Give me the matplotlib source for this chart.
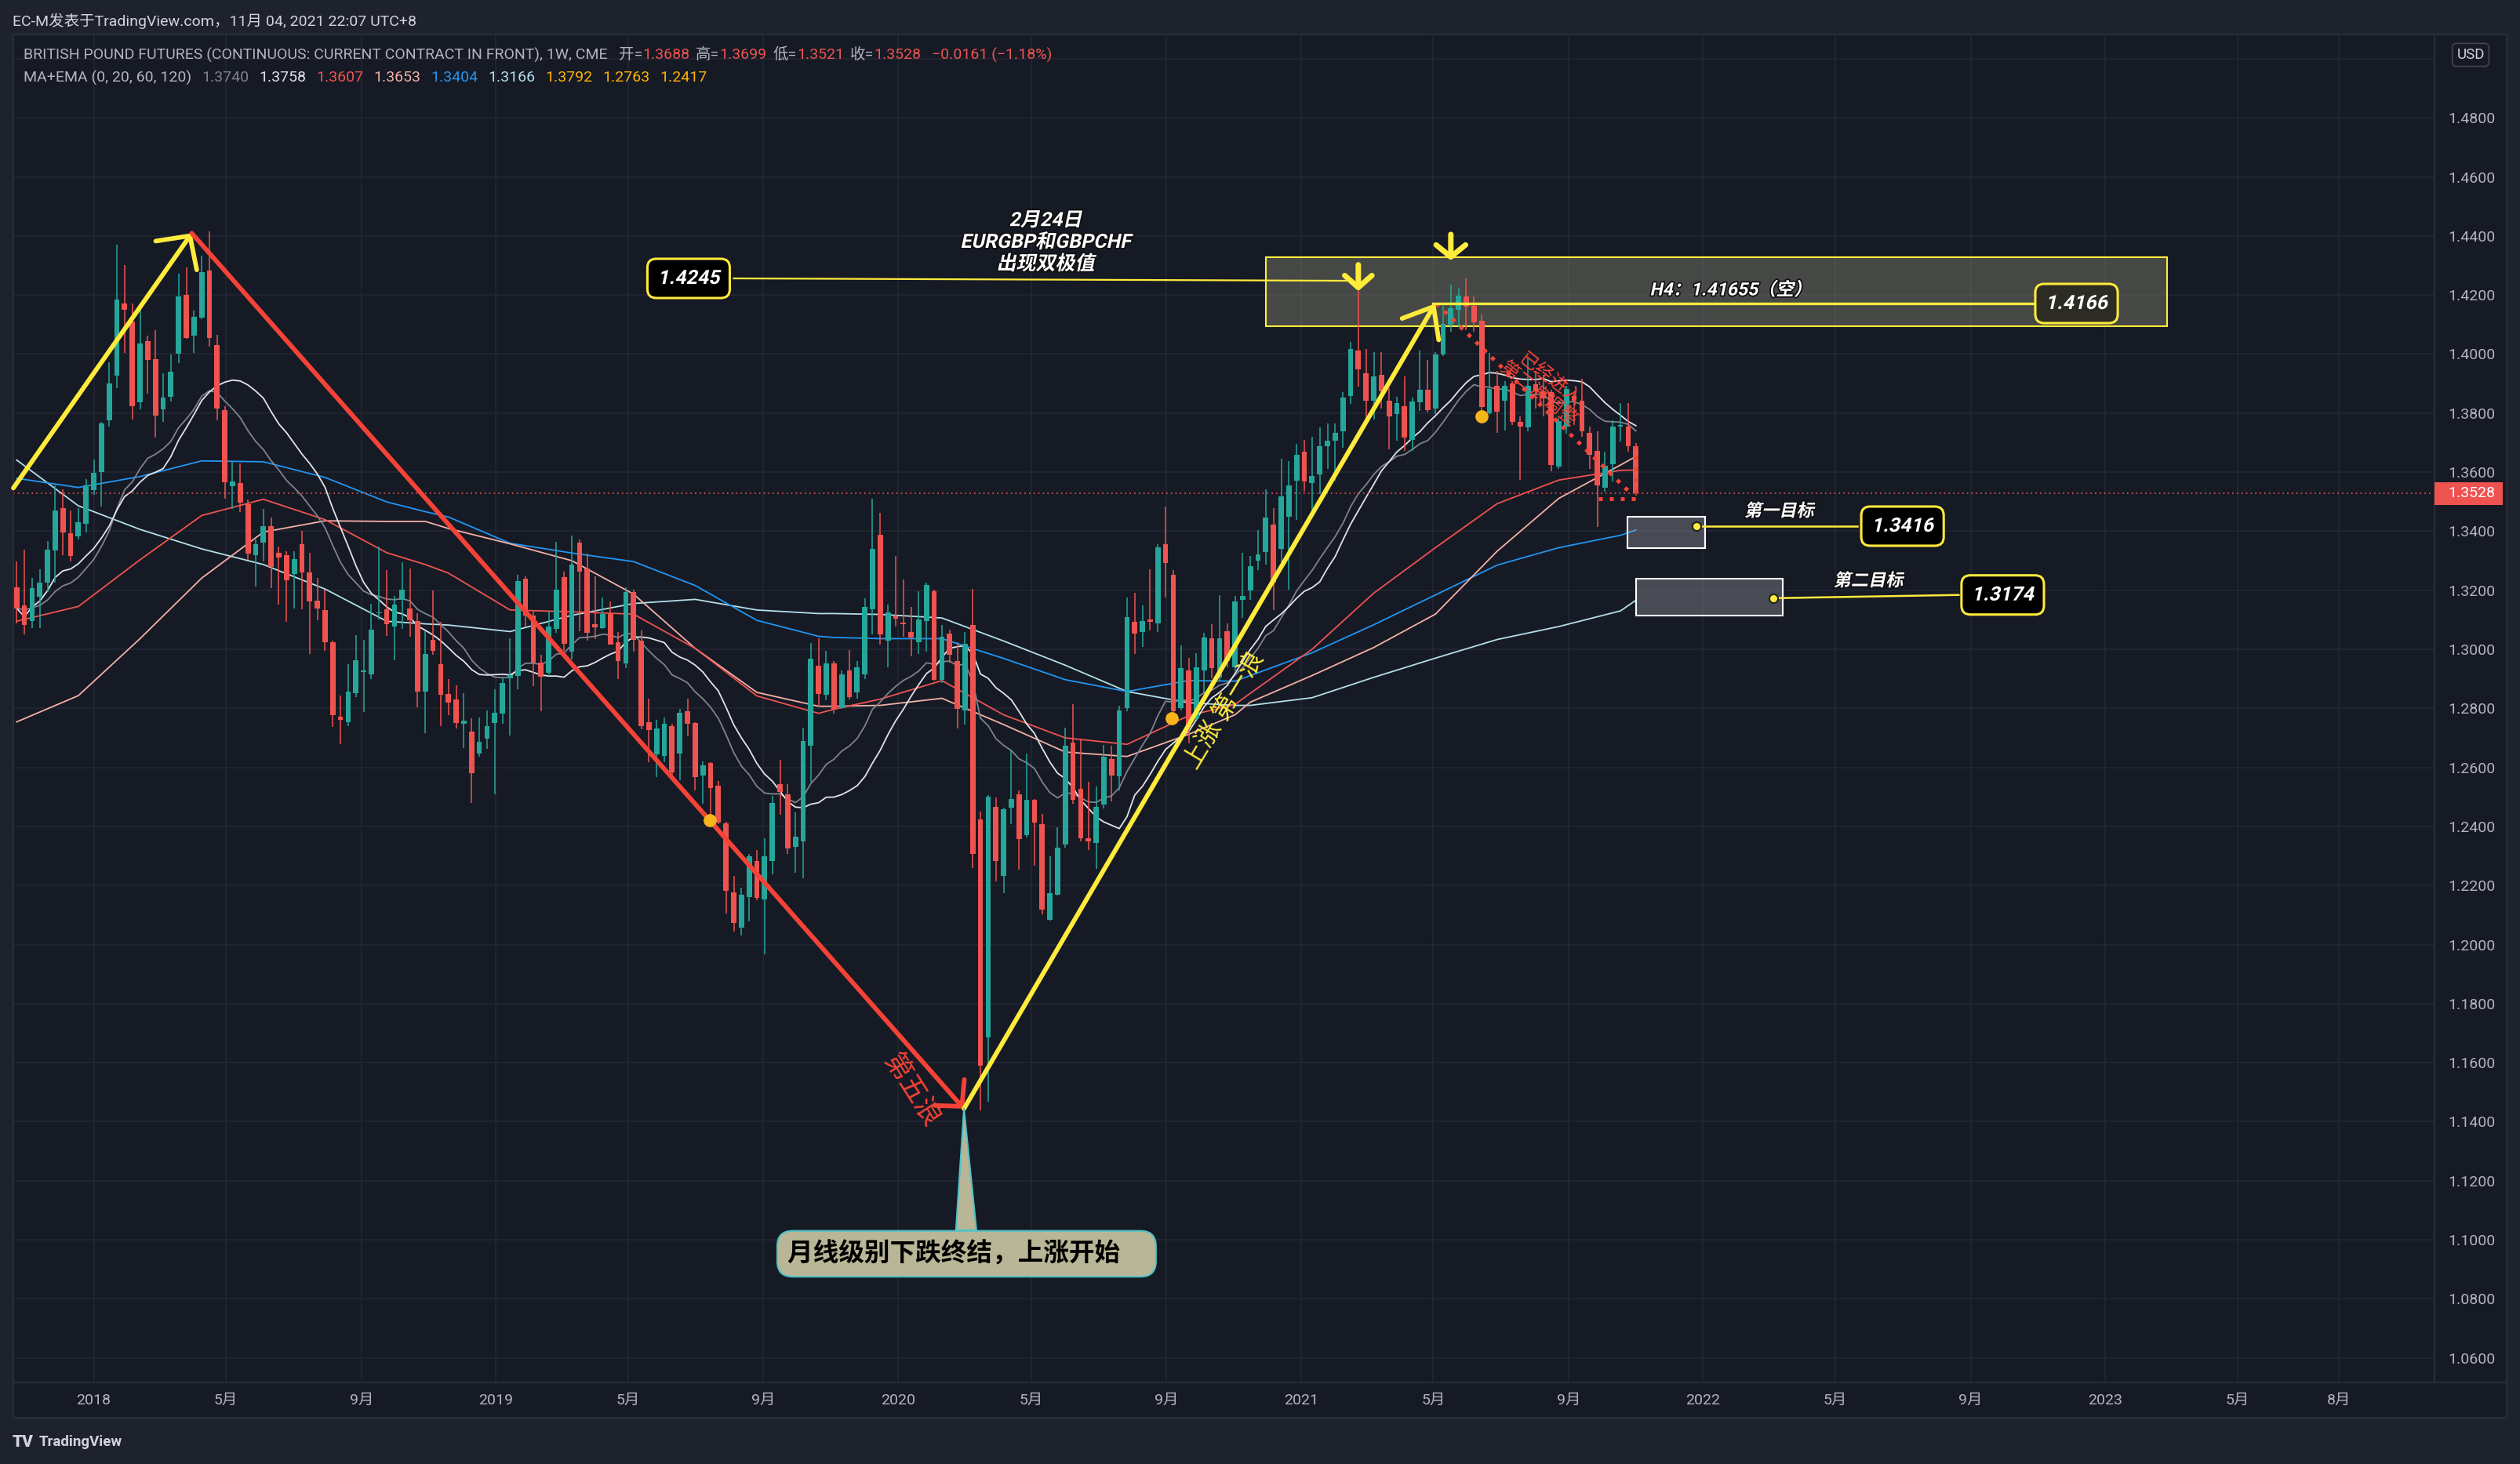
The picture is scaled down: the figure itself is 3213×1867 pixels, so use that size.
import numpy as np
import pandas as pd
import matplotlib
matplotlib.use('Agg')
import matplotlib.pyplot as plt
import matplotlib.dates as mdates
from matplotlib.patches import Rectangle
from matplotlib.patheffects import AbstractPathEffect
from matplotlib.ticker import FixedLocator, FormatStrFormatter
from matplotlib.transforms import Affine2D, blended_transform_factory

W, H = 3213, 1867
plt.rcParams['font.family'] = ['Roboto', 'Noto Sans CJK SC', 'DejaVu Sans']

# weekly bars, GBP futures (6B), Oct 2017 - Nov 2021
weeks = pd.date_range('2017-10-23', periods=211, freq='7D')
opens = [1.3210, 1.3148, 1.3095, 1.3178, 1.3225, 1.3334, 1.3479, 1.3393, 1.3382, 1.3426,
         1.3540, 1.3601, 1.3775, 1.3926, 1.4172, 1.4111, 1.3837, 1.4044, 1.3983, 1.3813,
         1.3856, 1.4000, 1.4201, 1.4062, 1.4123, 1.4283, 1.4030, 1.3809, 1.3552, 1.3564,
         1.3490, 1.3318, 1.3361, 1.3416, 1.3327, 1.3320, 1.3254, 1.3357, 1.3261, 1.3164,
         1.3132, 1.3025, 1.2772, 1.2753, 1.2852, 1.2923, 1.2916, 1.3121, 1.3135, 1.3076,
         1.3166, 1.3139, 1.3095, 1.2856, 1.3031, 1.2949, 1.2848, 1.2830, 1.2748, 1.2722,
         1.2646, 1.2698, 1.2751, 1.2781, 1.2902, 1.2910, 1.3240, 1.3113, 1.2955, 1.2920,
         1.3069, 1.3245, 1.2993, 1.3361, 1.3273, 1.3086, 1.3073, 1.3119, 1.3023, 1.2953,
         1.3193, 1.3029, 1.2752, 1.2643, 1.2638, 1.2739, 1.2646, 1.2789, 1.2750, 1.2573,
         1.2614, 1.2539, 1.2411, 1.2177, 1.2058, 1.2162, 1.2284, 1.2153, 1.2284, 1.2543,
         1.2510, 1.2332, 1.2350, 1.2673, 1.2943, 1.2845, 1.2953, 1.2802, 1.2928, 1.2855,
         1.2916, 1.3136, 1.3388, 1.3028, 1.3115, 1.3088, 1.3058, 1.3025, 1.3096, 1.3197,
         1.2897, 1.3052, 1.2960, 1.2794, 1.3082, 1.2425, 1.1685, 1.2467, 1.2233, 1.2464,
         1.2509, 1.2370, 1.2490, 1.2409, 1.2085, 1.2170, 1.2339, 1.2685, 1.2527, 1.2361,
         1.2345, 1.2473, 1.2628, 1.2569, 1.2802, 1.3093, 1.3058, 1.3101, 1.3088, 1.3355,
         1.3252, 1.2800, 1.2928, 1.2766, 1.2928, 1.3036, 1.2905, 1.3061, 1.2939, 1.3166,
         1.3198, 1.3299, 1.3328, 1.3423, 1.3341, 1.3448, 1.3570, 1.3668, 1.3563, 1.3593,
         1.3687, 1.3706, 1.3737, 1.3858, 1.4012, 1.3935, 1.3843, 1.3930, 1.3843, 1.3796,
         1.3823, 1.3709, 1.3836, 1.3879, 1.3814, 1.3998, 1.4099, 1.4150, 1.4195, 1.4164,
         1.4114, 1.3800, 1.3891, 1.3841, 1.3901, 1.3770, 1.3751, 1.3897, 1.3873, 1.3870,
         1.3620, 1.3754, 1.3858, 1.3843, 1.3732, 1.3671, 1.3546, 1.3627, 1.3754, 1.3754,
         1.3688]
highs = [1.3298, 1.3337, 1.3241, 1.3270, 1.3367, 1.3555, 1.3541, 1.3469, 1.3479, 1.3577,
         1.3643, 1.3771, 1.3972, 1.4370, 1.4302, 1.4172, 1.4161, 1.4061, 1.4081, 1.3935,
         1.3999, 1.4273, 1.4294, 1.4146, 1.4334, 1.4416, 1.4065, 1.3824, 1.3638, 1.3629,
         1.3506, 1.3373, 1.3476, 1.3446, 1.3347, 1.3333, 1.3331, 1.3402, 1.3327, 1.3241,
         1.3201, 1.3029, 1.2843, 1.2949, 1.3047, 1.3031, 1.3155, 1.3349, 1.3267, 1.3181,
         1.3296, 1.3274, 1.3121, 1.3062, 1.3199, 1.3092, 1.2900, 1.2877, 1.2851, 1.2765,
         1.2769, 1.2792, 1.2864, 1.2904, 1.3038, 1.3252, 1.3246, 1.3127, 1.2982, 1.3127,
         1.3364, 1.3264, 1.3385, 1.3371, 1.3323, 1.3246, 1.3174, 1.3163, 1.3058, 1.3210,
         1.3202, 1.3064, 1.2834, 1.2762, 1.2770, 1.2747, 1.2797, 1.2832, 1.2753, 1.2620,
         1.2617, 1.2554, 1.2415, 1.2233, 1.2193, 1.2306, 1.2320, 1.2361, 1.2504, 1.2625,
         1.2543, 1.2447, 1.2735, 1.3020, 1.3038, 1.2994, 1.2961, 1.2928, 1.2998, 1.2961,
         1.3173, 1.3510, 1.3461, 1.3151, 1.3315, 1.3237, 1.3143, 1.3197, 1.3227, 1.3203,
         1.3081, 1.3066, 1.3025, 1.3058, 1.3204, 1.2451, 1.2506, 1.2499, 1.2464, 1.2658,
         1.2521, 1.2648, 1.2494, 1.2442, 1.2300, 1.2396, 1.2734, 1.2813, 1.2696, 1.2551,
         1.2536, 1.2675, 1.2673, 1.2809, 1.3175, 1.3190, 1.3148, 1.3272, 1.3357, 1.3484,
         1.3267, 1.3013, 1.2972, 1.2987, 1.3055, 1.3085, 1.3182, 1.3088, 1.3181, 1.3327,
         1.3315, 1.3404, 1.3543, 1.3479, 1.3644, 1.3637, 1.3695, 1.3710, 1.3719, 1.3752,
         1.3766, 1.3765, 1.3870, 1.4040, 1.4248, 1.4018, 1.4006, 1.4007, 1.3885, 1.3855,
         1.3923, 1.3852, 1.4012, 1.3980, 1.4007, 1.4164, 1.4236, 1.4224, 1.4257, 1.4194,
         1.4135, 1.4004, 1.3944, 1.3909, 1.3909, 1.3790, 1.3986, 1.3944, 1.3930, 1.3879,
         1.3784, 1.3891, 1.3867, 1.3915, 1.3754, 1.3737, 1.3669, 1.3776, 1.3835, 1.3834,
         1.3699]
lows = [1.3088, 1.3051, 1.3071, 1.3072, 1.3194, 1.3225, 1.3320, 1.3298, 1.3372, 1.3397,
        1.3523, 1.3483, 1.3755, 1.3883, 1.4003, 1.3777, 1.3813, 1.3867, 1.3718, 1.3771,
        1.3840, 1.3969, 1.4052, 1.4005, 1.4119, 1.4026, 1.3775, 1.3510, 1.3476, 1.3466,
        1.3304, 1.3212, 1.3298, 1.3208, 1.3151, 1.3092, 1.3137, 1.3135, 1.2985, 1.3099,
        1.2996, 1.2737, 1.2678, 1.2740, 1.2837, 1.2787, 1.2900, 1.3102, 1.3045, 1.2962,
        1.3068, 1.3042, 1.2803, 1.2717, 1.2981, 1.2741, 1.2777, 1.2733, 1.2665, 1.2480,
        1.2637, 1.2664, 1.2510, 1.2747, 1.2708, 1.2865, 1.3074, 1.2876, 1.2791, 1.2910,
        1.3056, 1.2995, 1.2965, 1.3060, 1.3029, 1.3034, 1.3068, 1.3015, 1.2898, 1.2936,
        1.2991, 1.2729, 1.2617, 1.2566, 1.2617, 1.2575, 1.2556, 1.2705, 1.2522, 1.2478,
        1.2409, 1.2409, 1.2104, 1.2043, 1.2031, 1.2079, 1.2150, 1.1967, 1.2237, 1.2439,
        1.2308, 1.2243, 1.2225, 1.2551, 1.2807, 1.2827, 1.2783, 1.2797, 1.2831, 1.2834,
        1.2900, 1.3051, 1.3016, 1.2939, 1.3076, 1.3043, 1.2976, 1.2984, 1.2991, 1.2894,
        1.2887, 1.2954, 1.2731, 1.2745, 1.2260, 1.1439, 1.1469, 1.2215, 1.2175, 1.2409,
        1.2255, 1.2363, 1.2267, 1.2103, 1.2081, 1.2166, 1.2327, 1.2476, 1.2349, 1.2319,
        1.2257, 1.2461, 1.2484, 1.2521, 1.2790, 1.2984, 1.3009, 1.3063, 1.3058, 1.3175,
        1.2760, 1.2793, 1.2682, 1.2760, 1.2849, 1.2902, 1.2894, 1.2939, 1.2924, 1.3107,
        1.3166, 1.3267, 1.3288, 1.3134, 1.3294, 1.3202, 1.3439, 1.3534, 1.3455, 1.3525,
        1.3612, 1.3570, 1.3683, 1.3832, 1.3889, 1.3778, 1.3778, 1.3814, 1.3677, 1.3707,
        1.3671, 1.3671, 1.3808, 1.3802, 1.3796, 1.3992, 1.4075, 1.4091, 1.4081, 1.4075,
        1.3790, 1.3794, 1.3734, 1.3742, 1.3760, 1.3573, 1.3737, 1.3814, 1.3790, 1.3603,
        1.3612, 1.3731, 1.3760, 1.3719, 1.3612, 1.3413, 1.3534, 1.3568, 1.3704, 1.3668,
        1.3521]
closes = [1.3139, 1.3082, 1.3208, 1.3225, 1.3337, 1.3471, 1.3397, 1.3316, 1.3430, 1.3555,
          1.3597, 1.3764, 1.3900, 1.4185, 1.4151, 1.3824, 1.4036, 1.3981, 1.3792, 1.3853,
          1.3940, 1.4196, 1.4054, 1.4127, 1.4277, 1.4053, 1.3814, 1.3565, 1.3567, 1.3496,
          1.3325, 1.3356, 1.3416, 1.3280, 1.3310, 1.3234, 1.3306, 1.3261, 1.3161, 1.3137,
          1.3025, 1.2777, 1.2760, 1.2856, 1.2962, 1.2929, 1.3067, 1.3125, 1.3084, 1.3151,
          1.3201, 1.3099, 1.2856, 1.2985, 1.2995, 1.2847, 1.2820, 1.2751, 1.2758, 1.2581,
          1.2687, 1.2741, 1.2785, 1.2887, 1.2912, 1.3231, 1.3113, 1.2955, 1.2906, 1.3076,
          1.3202, 1.3019, 1.3286, 1.3264, 1.3056, 1.3074, 1.3119, 1.3017, 1.2959, 1.3193,
          1.3032, 1.2741, 1.2727, 1.2732, 1.2747, 1.2583, 1.2786, 1.2747, 1.2566, 1.2608,
          1.2531, 1.2412, 1.2183, 1.2073, 1.2169, 1.2300, 1.2159, 1.2300, 1.2480, 1.2516,
          1.2326, 1.2364, 1.2688, 1.2969, 1.2848, 1.2953, 1.2795, 1.2915, 1.2837, 1.2939,
          1.3143, 1.3340, 1.3051, 1.3125, 1.3103, 1.3085, 1.3039, 1.3100, 1.3218, 1.2897,
          1.3043, 1.2981, 1.2797, 1.3018, 1.2308, 1.1590, 1.2502, 1.2282, 1.2457, 1.2494,
          1.2357, 1.2490, 1.2413, 1.2118, 1.2173, 1.2327, 1.2673, 1.2491, 1.2361, 1.2349,
          1.2467, 1.2636, 1.2573, 1.2794, 1.3109, 1.3054, 1.3096, 1.3094, 1.3345, 1.3291,
          1.2790, 1.2936, 1.2737, 1.2940, 1.3040, 1.2936, 1.3036, 1.2961, 1.3163, 1.3180,
          1.3281, 1.3321, 1.3447, 1.3226, 1.3519, 1.3554, 1.3659, 1.3568, 1.3588, 1.3687,
          1.3707, 1.3732, 1.3852, 1.4016, 1.3947, 1.3843, 1.3924, 1.3873, 1.3788, 1.3834,
          1.3716, 1.3838, 1.3879, 1.3810, 1.3998, 1.4101, 1.4156, 1.4198, 1.4161, 1.4107,
          1.3820, 1.3881, 1.3805, 1.3893, 1.3769, 1.3754, 1.3893, 1.3873, 1.3850, 1.3624,
          1.3772, 1.3882, 1.3843, 1.3737, 1.3659, 1.3555, 1.3621, 1.3753, 1.3760, 1.3689,
          1.3528]

# slow averages (bar number -> value)
slow_bars = [1, 9, 17, 25, 33, 41, 49, 54, 57, 65, 73, 81, 89, 97, 105, 107, 113, 121,
             129, 137, 145, 153, 159, 161, 169, 177, 185, 193, 201, 209, 211]
ma_lightblue = [1.3641, 1.3486, 1.3406, 1.3340, 1.3287, 1.3204, 1.3095, 1.3086, 1.3082, 1.3060,
                1.3115, 1.3155, 1.3169, 1.3133, 1.3121, 1.3121, 1.3118, 1.3106, 1.3028, 1.2946,
                1.2857, 1.2819, 1.2810, 1.2810, 1.2836, 1.2905, 1.2970, 1.3033, 1.3077, 1.3130,
                1.3166]
ma_blue = [1.3579, 1.3548, 1.3585, 1.3638, 1.3635, 1.3582, 1.3499, 1.3466, 1.3448, 1.3359,
           1.3326, 1.3297, 1.3216, 1.3098, 1.3044, 1.3040, 1.3036, 1.3036, 1.2969, 1.2897,
           1.2857, 1.2894, 1.2892, 1.2911, 1.2988, 1.3083, 1.3184, 1.3285, 1.3344, 1.3386,
           1.3404]
ma_red = [1.3095, 1.3145, 1.3303, 1.3453, 1.3508, 1.3439, 1.3327, 1.3287, 1.3258, 1.3133,
          1.3127, 1.3119, 1.3003, 1.2842, 1.2783, 1.2797, 1.2831, 1.2894, 1.2778, 1.2700,
          1.2678, 1.2775, 1.2813, 1.2851, 1.3000, 1.3190, 1.3344, 1.3493, 1.3573, 1.3606,
          1.3607]
ma_pink = [1.2754, 1.2843, 1.3036, 1.3241, 1.3397, 1.3435, 1.3433, 1.3433, 1.3409, 1.3357,
           1.3300, 1.3187, 1.3003, 1.2854, 1.2807, 1.2807, 1.2810, 1.2834, 1.2745, 1.2652,
           1.2637, 1.2712, 1.2778, 1.2821, 1.2911, 1.3006, 1.3119, 1.3332, 1.3511, 1.3624,
           1.3653]

tick_dates = ['2018-01-01', '2018-05-01', '2018-09-01', '2019-01-01', '2019-05-01', '2019-09-01',
              '2020-01-01', '2020-05-01', '2020-09-01', '2021-01-01', '2021-05-01', '2021-09-01',
              '2022-01-01', '2022-05-01', '2022-09-01', '2023-01-01', '2023-05-01', '2023-08-01']
tick_labels = ['2018', '5月', '9月', '2019', '5月', '9月', '2020', '5月', '9月',
               '2021', '5月', '9月', '2022', '5月', '9月', '2023', '5月', '8月']

wave_dates = ['2017-10-20', '2018-03-31', '2020-03-01', '2021-05-03']
wave_prices = [1.3546, 1.4409, 1.1444, 1.4171]
dot_dates = ['2019-07-14', '2020-09-06', '2021-06-14']
dot_prices = [1.2420, 1.2765, 1.3790]
last_price = 1.3528

BG = '#161a25'
OUT = '#1e222d'
UP, DN = '#26a69a', '#ef5350'
YEL, RED = '#ffeb3b', '#f44336'
TXT = '#b2b5be'


def dn(s):
    return mdates.date2num(pd.Timestamp(s))


class Slant(AbstractPathEffect):
    # fake italic for bold annotation text
    def __init__(self, angle=12, stroke=None, width=0):
        super().__init__()
        self.skew = Affine2D().skew_deg(angle, 0)
        self.stroke = stroke
        self.width = width

    def draw_path(self, renderer, gc, tpath, affine, rgbFace=None):
        aff = self.skew + affine
        if self.stroke:
            gc0 = renderer.new_gc()
            gc0.copy_properties(gc)
            gc0.set_foreground(self.stroke)
            gc0.set_linewidth(self.width)
            gc0.set_joinstyle('round')
            renderer.draw_path(gc0, tpath, aff, None)
            gc0.restore()
        renderer.draw_path(gc, tpath, aff, rgbFace)


fig = plt.figure(figsize=(W / 100, H / 100), dpi=100, facecolor=OUT)


def fx(px):
    return px / W


def fy(py):
    return 1 - py / H


# axis strips
fig.add_artist(Rectangle((fx(3104), fy(1808)), fx(3196 - 3104), (1808 - 44) / H,
                         transform=fig.transFigure, fc=BG, ec='#2a2e39', lw=1.5, zorder=-5))
fig.add_artist(Rectangle((fx(17), fy(1808)), fx(3196 - 17), 45 / H,
                         transform=fig.transFigure, fc=BG, ec='#2a2e39', lw=1.5, zorder=-5))

ax = fig.add_axes([fx(17), fy(1763), fx(3104 - 17), (1763 - 44) / H])
ax.set_facecolor(BG)
ax.set_xlim(dn('2017-10-20'), dn('2023-10-27'))
ax.set_ylim(1.0517, 1.5082)
for sp in ax.spines.values():
    sp.set_color('#2a2e39')
    sp.set_linewidth(1.5)

ax.yaxis.tick_right()
ax.yaxis.set_major_locator(FixedLocator(np.round(np.arange(1.06, 1.481, 0.02), 2)))
ax.yaxis.set_major_formatter(FormatStrFormatter('%.4f'))
ax.tick_params(axis='y', length=0, pad=12.5, labelsize=14, labelcolor=TXT)
ax.xaxis.set_major_locator(FixedLocator([dn(d) for d in tick_dates]))
ax.set_xticklabels(tick_labels)
ax.tick_params(axis='x', length=0, pad=10, labelsize=14, labelcolor=TXT)
ax.grid(True, color='#232733', lw=1.2, zorder=0)
ax.axhline(1.50, color='#232733', lw=1.2, zorder=0)
ax.set_axisbelow(True)

x = mdates.date2num(weeks)
o, h, l, c = map(np.array, (opens, highs, lows, closes))
col = np.where(c >= o, UP, DN)

# moving averages
cs = pd.Series(c)
sma20 = cs.rolling(20, min_periods=1).mean()
ema20 = cs.ewm(span=20, adjust=False).mean()
xs = x[np.array(slow_bars) - 1]
ax.plot(xs, ma_lightblue, color='#b2dfe8', lw=1.3, zorder=2)
ax.plot(xs, ma_blue, color='#2196f3', lw=1.3, zorder=2)
ax.plot(xs, ma_pink, color='#f4b0a6', lw=1.3, zorder=2)
ax.plot(xs, ma_red, color='#ef5350', lw=1.3, zorder=2)
ax.plot(x, ema20, color='#80838d', lw=1.3, zorder=2)
ax.plot(x, sma20, color='#e1e3e8', lw=1.3, zorder=2)

# candles
ax.vlines(x, l, h, colors=col, lw=1.1, zorder=3)
ax.bar(x, np.maximum(np.abs(c - o), 0.0004), width=4.8, bottom=np.minimum(o, c),
       color=col, zorder=3)

# last price line and label
ax.axhline(last_price, color=DN, lw=1.2, ls=(0, (1, 2.5)), zorder=2)
bt = blended_transform_factory(ax.transAxes, ax.transData)
ax.add_patch(Rectangle((1.0, last_price - 0.00385), 87 / 3087, 0.0077, transform=bt,
                       fc=DN, ec='none', clip_on=False, zorder=6))
ax.text(1.0 + 17.7 / 3087, last_price, f'{last_price:.4f}', transform=bt, color='white',
        fontsize=14, ha='left', va='center', clip_on=False, zorder=7)

# zone and target boxes
ax.add_patch(Rectangle((dn('2020-11-30'), 1.4093), dn('2023-02-26') - dn('2020-11-30'), 0.0236,
                       fc=(0.62, 0.62, 0.50, 0.35), ec=YEL, lw=1.5, zorder=1))
ax.add_patch(Rectangle((dn('2021-10-24'), 1.3343), dn('2022-01-03') - dn('2021-10-24'), 0.0106,
                       fc=(0.65, 0.65, 0.68, 0.35), ec='white', lw=1.5, zorder=4))
ax.add_patch(Rectangle((dn('2021-11-01'), 1.3115), dn('2022-03-14') - dn('2021-11-01'), 0.0125,
                       fc=(0.65, 0.65, 0.68, 0.35), ec='white', lw=1.5, zorder=4))

# wave lines
wx = [dn(d) for d in wave_dates]
arrows = [(0, YEL, 2.2, 2.3), (1, RED, 1.7, 1.8), (2, YEL, 2.4, 1.95)]
for i, colr, hl, hw in arrows:
    ax.annotate('', xy=(wx[i + 1], wave_prices[i + 1]), xytext=(wx[i], wave_prices[i]),
                arrowprops=dict(arrowstyle=f'->,head_length={hl},head_width={hw}', color=colr,
                                lw=4.2, shrinkA=0, shrinkB=0, mutation_scale=10,
                                capstyle='round', joinstyle='round'), zorder=5)

ax.plot([dn(d) for d in dot_dates], dot_prices, 'o', color='#f7b51c', ms=11, zorder=6)

# dotted path after the top
ax.plot([dn('2021-05-04'), dn('2021-10-26')], [1.4171, 1.3533], color=RED, lw=3.6,
        ls=(0, (1, 1.8)), dash_capstyle='butt', zorder=5)
ax.plot([dn('2021-09-28'), dn('2021-11-01'), dn('2021-11-01')], [1.3510, 1.3510, 1.3687],
        color=RED, lw=3.6, ls=(0, (1, 1.8)), dash_capstyle='butt', zorder=5)

# down arrows at the tops
for d, top, tip, hw in [('2021-02-22', 1.4302, 1.4213, 1.25), ('2021-05-17', 1.4405, 1.4317, 1.35)]:
    ax.annotate('', xy=(dn(d), tip), xytext=(dn(d), top),
                arrowprops=dict(arrowstyle=f'->,head_length=1.1,head_width={hw}', color=YEL,
                                lw=5.0, shrinkA=0, shrinkB=0, mutation_scale=10), zorder=6)

# label lines
ax.plot([dn('2019-08-05'), dn('2021-02-15')], [1.4256, 1.4248], color=YEL, lw=1.6, zorder=5)
ax.plot([dn('2021-05-01'), dn('2022-10-29')], [1.4171, 1.4171], color=YEL, lw=2.4, zorder=5)
ax.plot([dn('2021-12-26'), dn('2022-05-21')], [1.3417, 1.3417], color=YEL, lw=1.8, zorder=5)
ax.plot([dn('2022-03-06'), dn('2022-08-21')], [1.3173, 1.3184], color=YEL, lw=1.8, zorder=5)
ax.plot([dn('2021-12-26'), dn('2022-03-06')], [1.3417, 1.3173], 'o', mfc=YEL, mec='#222222',
        mew=1.5, ms=8, zorder=6)

bold = dict(color='white', fontsize=18, fontweight='bold', ha='center', va='center', zorder=8)
for d, p, s, fc in [('2019-06-25', 1.4256, '1.4245', 'black'),
                    ('2022-12-06', 1.4171, '1.4166', '#2d2c24'),
                    ('2022-07-01', 1.3417, '1.3416', 'black'),
                    ('2022-09-30', 1.3184, '1.3174', 'black')]:
    ax.text(dn(d), p, s, bbox=dict(boxstyle='round,pad=0.52,rounding_size=0.45', fc=fc,
                                   ec=YEL, lw=2.2),
            path_effects=[Slant()], **bold)

shadow = [Slant(stroke='#101010', width=2.5)]
ax.text(dn('2020-05-14'), 1.4378, '2月24日\nEURGBP和GBPCHF\n出现双极值', linespacing=1.2,
        path_effects=shadow, **bold)
ax.text(dn('2022-01-26'), 1.4216, 'H4：1.41655（空）', path_effects=shadow,
        **{**bold, 'fontsize': 16.5})
ax.text(dn('2022-03-11'), 1.3466, '第一目标', path_effects=shadow, **{**bold, 'fontsize': 16})
ax.text(dn('2022-05-31'), 1.3230, '第二目标', path_effects=shadow, **{**bold, 'fontsize': 16})

ax.text(dn('2020-01-13'), 1.1508, '第五浪', rotation=-57.5, color=RED, fontsize=25,
        ha='center', va='center', rotation_mode='anchor', zorder=6)
ax.text(dn('2020-10-23'), 1.2794, '上涨 第一浪', rotation=59, color=YEL, fontsize=23,
        ha='center', va='center', rotation_mode='anchor', zorder=6)
ax.text(dn('2021-08-10'), 1.3889, '已经进入\n第二浪调整', rotation=-38, color=RED, fontsize=17,
        ha='center', va='center', rotation_mode='anchor', linespacing=1.0, zorder=6)

# callout at the low
ax.annotate('月线级别下跌终结，上涨开始\u3000', xy=(wx[2], wave_prices[2]), xytext=(-225, -185),
            textcoords='offset pixels', ha='left', va='center', fontsize=23.5,
            fontweight='bold', color='black', zorder=7,
            bbox=dict(boxstyle='round,pad=0.4,rounding_size=0.6', fc='#b8b696', ec='#4fc3c8',
                      lw=1.5),
            arrowprops=dict(arrowstyle='wedge,tail_width=0.8,shrink_factor=0.5',
                            fc='#b8b696', ec='#4fc3c8', lw=1.5, shrinkA=0, shrinkB=0))

# header rows
renderer = fig.canvas.get_renderer()


def text_row(x0, y0, pieces, size):
    xp = x0
    for s, colr, gap in pieces:
        xp += gap
        t = fig.text(fx(xp), fy(y0), s, color=colr, fontsize=size, va='center', ha='left')
        xp += t.get_window_extent(renderer).width


text_row(16, 27, [('EC-M发表于TradingView.com，11月 04, 2021 22:07 UTC+8', '#d1d4dc', 0)], 14)
text_row(30, 70, [('BRITISH POUND FUTURES (CONTINUOUS: CURRENT CONTRACT IN FRONT), 1W, CME', TXT, 0),
                  ('开=', TXT, 14), ('1.3688', DN, 0), ('高=', TXT, 8), ('1.3699', DN, 0),
                  ('低=', TXT, 8), ('1.3521', DN, 0), ('收=', TXT, 8), ('1.3528', DN, 0),
                  ('−0.0161 (−1.18%)', DN, 14)], 14)
ma_vals = [('1.3740', '#80838d'), ('1.3758', '#e1e3e8'), ('1.3607', '#ef5350'),
           ('1.3653', '#f4b0a6'), ('1.3404', '#2196f3'), ('1.3166', '#b2dfe8'),
           ('1.3792', '#ffb300'), ('1.2763', '#ffb300'), ('1.2417', '#ffb300')]
text_row(30, 99, [('MA+EMA (0, 20, 60, 120)', TXT, 0)] + [(v, cc, 13) for v, cc in ma_vals], 14)

fig.text(fx(3150), fy(70), 'USD', color='#d1d4dc', fontsize=13.5, ha='center', va='center',
         bbox=dict(boxstyle='round,pad=0.3', fc=BG, ec='#434651', lw=1.2), zorder=10)
fig.text(fx(16), fy(1839), 'TV', color='#d1d4dc', fontsize=15, fontweight='heavy',
         ha='left', va='center')
fig.text(fx(50), fy(1839), 'TradingView', color='#d1d4dc', fontsize=13.5, fontweight='bold',
         ha='left', va='center')

fig.savefig('out.png', dpi=100, facecolor=OUT)
